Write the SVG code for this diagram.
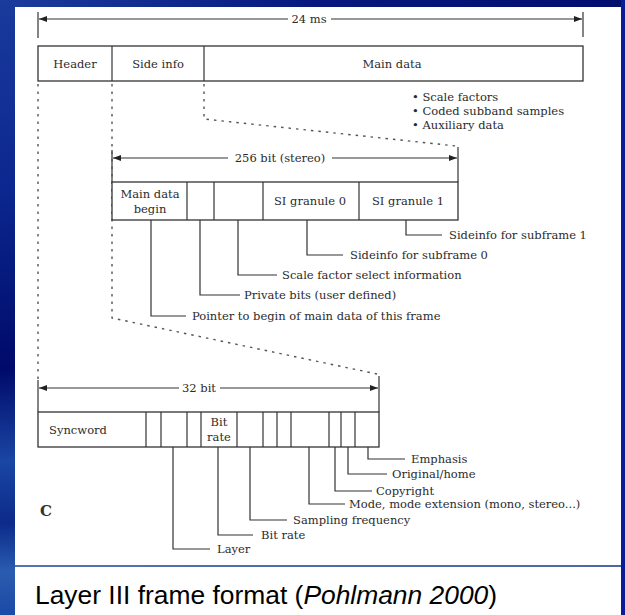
<svg xmlns="http://www.w3.org/2000/svg" width="625" height="615" viewBox="0 0 625 615">
<defs>
<linearGradient id="bgTop" x1="0" y1="0" x2="1" y2="0">
<stop offset="0" stop-color="#1c3c9c"/><stop offset="0.5" stop-color="#06187e"/><stop offset="1" stop-color="#000e6e"/>
</linearGradient>
<linearGradient id="bgLeft" x1="0" y1="0" x2="0" y2="1">
<stop offset="0" stop-color="#1a3a9c"/><stop offset="0.3" stop-color="#0c2890"/><stop offset="0.6" stop-color="#000a6a"/><stop offset="0.75" stop-color="#1a46a4"/><stop offset="0.85" stop-color="#0c2a8a"/><stop offset="0.93" stop-color="#2a5cb0"/><stop offset="1" stop-color="#1a4aa6"/>
</linearGradient>
<marker id="ah" viewBox="0 0 8 6" refX="8" refY="3" markerWidth="8" markerHeight="6" markerUnits="userSpaceOnUse" orient="auto">
<path d="M0,0 L8,3 L0,6 z" fill="#222"/>
</marker>
<style>
.t { font-family: "DejaVu Serif", "Liberation Serif", serif; font-size: 11.5px; fill: #2b2b2b; }
.m { text-anchor: middle; }
.ln { stroke: #333; stroke-width: 1.2; fill: none; }
.box { fill: #fff; stroke: #333; stroke-width: 1.3; }
.dot { stroke: #555; stroke-width: 1.4; stroke-dasharray: 2.5 5; fill: none; }
.cap { font-family: "Liberation Sans", Arial, sans-serif; font-size: 26.4px; fill: #000; }
</style>
</defs>

<!-- background -->
<rect x="0" y="0" width="625" height="615" fill="url(#bgTop)"/>
<rect x="0" y="0" width="15" height="615" fill="url(#bgLeft)"/>
<rect x="621" y="0" width="4" height="615" fill="#0a1c96"/>
<rect x="15" y="7" width="606" height="558" fill="#fff"/>
<rect x="15" y="567" width="606" height="48" fill="#fff"/>
<line x1="15" y1="566" x2="621" y2="566" stroke="#6a86bb" stroke-width="1.5"/>

<g id="connectors">
<!-- dimension arrows -->
<line class="ln" x1="38" y1="12" x2="38" y2="38"/>
<line class="ln" x1="583" y1="12" x2="583" y2="37"/>
<line class="ln" x1="288" y1="19" x2="39" y2="19" marker-end="url(#ah)"/>
<line class="ln" x1="331" y1="19" x2="582" y2="19" marker-end="url(#ah)"/>

<line class="ln" x1="112" y1="150" x2="112" y2="182"/>
<line class="ln" x1="458" y1="147" x2="458" y2="182"/>
<line class="ln" x1="228" y1="158" x2="113" y2="158" marker-end="url(#ah)"/>
<line class="ln" x1="332" y1="158" x2="457" y2="158" marker-end="url(#ah)"/>

<line class="ln" x1="38" y1="380" x2="38" y2="412"/>
<line class="ln" x1="379" y1="376" x2="379" y2="412"/>
<line class="ln" x1="179" y1="388" x2="39" y2="388" marker-end="url(#ah)"/>
<line class="ln" x1="220" y1="388" x2="378" y2="388" marker-end="url(#ah)"/>

<!-- dotted expansion lines -->
<polyline class="dot" points="38,84 38,380"/>
<polyline class="dot" points="112,84 112,318 377,374"/>
<polyline class="dot" points="204,84 204,119 456,146"/>

<!-- side info leaders -->
<polyline class="ln" points="151,220 151,316 186,316"/>
<polyline class="ln" points="200,220 200,295 240,295"/>
<polyline class="ln" points="238,220 238,275 277,275"/>
<polyline class="ln" points="307,220 307,255 343,255"/>
<polyline class="ln" points="406,220 406,235 442,235"/>

<!-- header leaders -->
<polyline class="ln" points="173,447 173,549 210,549"/>
<polyline class="ln" points="218,447 218,535 253,535"/>
<polyline class="ln" points="250,447 250,520 287,520"/>
<polyline class="ln" points="309,447 309,504 345,504"/>
<polyline class="ln" points="335,447 335,491 372,491"/>
<polyline class="ln" points="348,447 348,474 387,474"/>
<polyline class="ln" points="368,447 368,459 405,459"/>
</g>

<g id="frame">
<text class="t m" x="309" y="23">24 ms</text>
<rect class="box" x="38" y="46" width="545" height="35"/>
<line class="ln" x1="112" y1="46" x2="112" y2="81"/>
<line class="ln" x1="204" y1="46" x2="204" y2="81"/>
<text class="t m" x="75" y="68">Header</text>
<text class="t m" x="158" y="68">Side info</text>
<text class="t m" x="392" y="68">Main data</text>
</g>

<g id="main-data-contents">
<text class="t" x="412" y="101">• Scale factors</text>
<text class="t" x="412" y="115">• Coded subband samples</text>
<text class="t" x="412" y="129">• Auxiliary data</text>
</g>

<g id="side-info">
<text class="t m" x="280" y="162">256 bit (stereo)</text>
<rect class="box" x="112" y="182" width="346" height="38"/>
<line class="ln" x1="187" y1="182" x2="187" y2="220"/>
<line class="ln" x1="214" y1="182" x2="214" y2="220"/>
<line class="ln" x1="263" y1="182" x2="263" y2="220"/>
<line class="ln" x1="359" y1="182" x2="359" y2="220"/>
<text class="t m" x="150" y="198">Main data</text>
<text class="t m" x="150" y="213">begin</text>
<text class="t m" x="310" y="205">SI granule 0</text>
<text class="t m" x="408" y="205">SI granule 1</text>
</g>

<g id="side-info-labels">
<text class="t" x="449" y="239">Sideinfo for subframe 1</text>
<text class="t" x="350" y="259">Sideinfo for subframe 0</text>
<text class="t" x="282" y="279">Scale factor select information</text>
<text class="t" x="244" y="299">Private bits (user defined)</text>
<text class="t" x="192" y="320">Pointer to begin of main data of this frame</text>
</g>

<g id="header">
<text class="t m" x="199" y="392">32 bit</text>
<rect class="box" x="38" y="412" width="341" height="35"/>
<line class="ln" x1="146" y1="412" x2="146" y2="447"/>
<line class="ln" x1="161" y1="412" x2="161" y2="447"/>
<line class="ln" x1="187" y1="412" x2="187" y2="447"/>
<line class="ln" x1="201" y1="412" x2="201" y2="447"/>
<line class="ln" x1="237" y1="412" x2="237" y2="447"/>
<line class="ln" x1="263" y1="412" x2="263" y2="447"/>
<line class="ln" x1="277" y1="412" x2="277" y2="447"/>
<line class="ln" x1="291" y1="412" x2="291" y2="447"/>
<line class="ln" x1="329" y1="412" x2="329" y2="447"/>
<line class="ln" x1="341" y1="412" x2="341" y2="447"/>
<line class="ln" x1="355" y1="412" x2="355" y2="447"/>
<text class="t m" x="78" y="434">Syncword</text>
<text class="t m" x="219" y="426">Bit</text>
<text class="t m" x="219" y="441">rate</text>
</g>

<g id="header-labels">
<text class="t" x="411" y="463">Emphasis</text>
<text class="t" x="392" y="478">Original/home</text>
<text class="t" x="376" y="495">Copyright</text>
<text class="t" x="349" y="508">Mode, mode extension (mono, stereo...)</text>
<text class="t" x="293" y="524">Sampling frequency</text>
<text class="t" x="261" y="539">Bit rate</text>
<text class="t" x="217" y="553">Layer</text>
<text x="40" y="516" font-family="'DejaVu Serif', 'Liberation Serif', serif" font-size="15" font-weight="bold" fill="#333">C</text>
</g>

<g id="caption">
<text class="cap" x="35" y="604">Layer III frame format (<tspan font-style="italic">Pohlmann 2000</tspan>)</text>
</g>
</svg>
